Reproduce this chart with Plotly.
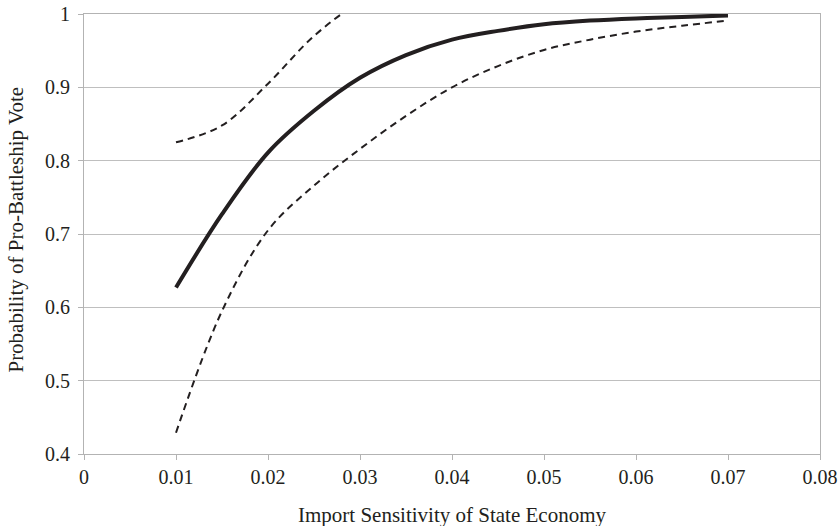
import plotly.graph_objects as go

x_vals = [0.01, 0.015, 0.02, 0.025, 0.03, 0.035, 0.04, 0.045, 0.05, 0.055, 0.06, 0.065, 0.07]
prob_main = [0.627, 0.727, 0.811, 0.868, 0.913, 0.944, 0.965, 0.977, 0.986, 0.991, 0.994, 0.996, 0.998]
prob_lower = [0.429, 0.595, 0.705, 0.766, 0.816, 0.861, 0.900, 0.929, 0.951, 0.965, 0.976, 0.984, 0.991]
upper_x = [0.01, 0.015, 0.02, 0.025, 0.03, 0.035]
prob_upper = [0.825, 0.848, 0.905, 0.970, 1.017, 1.05]

x_ticks = [0, 0.01, 0.02, 0.03, 0.04, 0.05, 0.06, 0.07, 0.08]
x_tick_labels = ["0", "0.01", "0.02", "0.03", "0.04", "0.05", "0.06", "0.07", "0.08"]
y_ticks = [0.4, 0.5, 0.6, 0.7, 0.8, 0.9, 1.0]
y_tick_labels = ["0.4", "0.5", "0.6", "0.7", "0.8", "0.9", "1"]

ink = "#231F20"
axis_gray = "#B3B3B3"
serif = "Liberation Serif, Times New Roman, serif"
fig = go.Figure()
fig.add_trace(go.Scatter(x=x_vals, y=prob_lower, mode="lines",
                         line=dict(color=ink, width=2, dash="7px,5px", shape="spline")))
fig.add_trace(go.Scatter(x=upper_x, y=prob_upper, mode="lines",
                         line=dict(color=ink, width=2, dash="7px,5px", shape="spline")))
fig.add_trace(go.Scatter(x=x_vals, y=prob_main, mode="lines",
                         line=dict(color=ink, width=4, shape="spline")))

tick_font = dict(family=serif, size=20, color=ink)
fig.update_layout(
    width=840, height=526,
    margin=dict(l=84, r=20, t=14, b=72, autoexpand=False),
    paper_bgcolor="white", plot_bgcolor="white",
    showlegend=False,
    font=dict(family=serif, size=20, color=ink),
    xaxis=dict(range=[0, 0.08], tickvals=x_ticks, ticktext=x_tick_labels,
               showgrid=False, zeroline=False, automargin=False,
               showline=True, linecolor=axis_gray, linewidth=1, mirror=True,
               ticks="outside", ticklen=5, tickcolor=axis_gray,
               ticklabeloverflow="allow", tickfont=tick_font),
    yaxis=dict(range=[0.4, 1.0], tickvals=y_ticks, ticktext=y_tick_labels,
               showgrid=True, gridcolor="#BFBFBF", gridwidth=1, zeroline=False,
               automargin=False,
               showline=True, linecolor=axis_gray, linewidth=1, mirror=True,
               ticks="outside", ticklen=5, tickcolor=axis_gray,
               ticklabelstandoff=4,
               ticklabeloverflow="allow", tickfont=tick_font),
    annotations=[
        dict(text="Import Sensitivity of State Economy", xref="paper", yref="paper",
             x=0.5, y=-0.1386, xanchor="center", yanchor="middle", showarrow=False,
             font=dict(family=serif, size=21, color=ink)),
        dict(text="Probability of Pro-Battleship Vote", xref="paper", yref="paper",
             x=-0.0917, y=0.509, xanchor="center", yanchor="middle", showarrow=False,
             textangle=-90, font=dict(family=serif, size=21, color=ink)),
    ],
)
fig.write_html("out.html", config={"displayModeBar": False},
               post_script="document.body.style.margin='0';document.body.style.overflow='hidden';")
